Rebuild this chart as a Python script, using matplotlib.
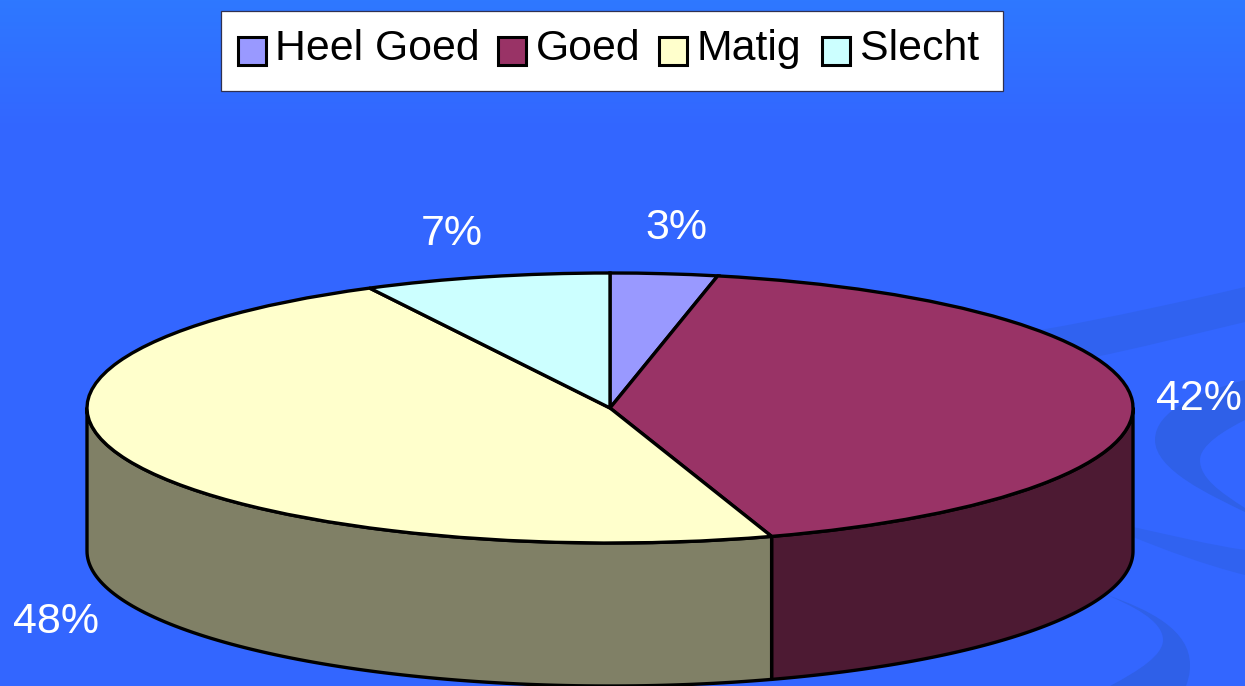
import numpy as np
import matplotlib
matplotlib.use('Agg')
import matplotlib.pyplot as plt
from matplotlib.patches import PathPatch, Polygon, Rectangle
from matplotlib.path import Path

plt.rcParams['font.family'] = ['Liberation Sans', 'DejaVu Sans']

labels = ['Heel Goed', 'Goed', 'Matig', 'Slecht']
values = [3.3, 41.7, 47.4, 7.6]
pct_labels = ['3%', '42%', '48%', '7%']
top_colors = ['#9999ff', '#993366', '#ffffcc', '#ccffff']
side_colors = ['#4d4d80', '#4d1a33', '#808066', '#668080']

W, H = 1245, 686
cx, cy, rx, ry, depth = 610, 408, 523, 135, 143

fig = plt.figure(figsize=(W / 100, H / 100), dpi=100)

# background
bg = fig.add_axes([0, 0, 1, 1])
bg.set_xlim(0, W)
bg.set_ylim(H, 0)
bg.axis('off')
grad = np.zeros((H, 1, 3))
t = np.clip(np.arange(H) / 130, 0, 1)
grad[:, 0, 0] = (46 + 5 * t) / 255
grad[:, 0, 1] = (120 - 18 * t) / 255
grad[:, 0, 2] = 1
bg.imshow(grad, extent=[0, W, H, 0], aspect='auto', zorder=0)


def blob(start, curves, color, z=1):
    verts = [start]
    codes = [Path.MOVETO]
    for c in curves:
        verts += c
        codes += [Path.CURVE4] * 3
    verts.append(start)
    codes.append(Path.CLOSEPOLY)
    bg.add_patch(PathPatch(Path(verts, codes), fc=color, ec='none', zorder=z))


swirl = '#2f60e8'
band = '#3062f0'
blob((1040, 330), [[(1110, 318), (1190, 300), (1245, 287)],
                   [(1245, 300), (1245, 310), (1245, 322)],
                   [(1190, 335), (1140, 348), (1090, 358)],
                   [(1070, 350), (1055, 340), (1040, 330)]], band)
blob((1245, 380), [[(1200, 392), (1155, 410), (1155, 440)],
                   [(1155, 470), (1210, 495), (1245, 512)],
                   [(1245, 510), (1245, 510), (1245, 508)],
                   [(1220, 492), (1200, 478), (1200, 460)],
                   [(1200, 445), (1225, 430), (1245, 420)],
                   [(1245, 405), (1245, 395), (1245, 380)]], swirl)
blob((1133, 527), [[(1170, 535), (1210, 545), (1245, 550)],
                   [(1245, 558), (1245, 566), (1245, 575)],
                   [(1205, 565), (1165, 550), (1133, 537)],
                   [(1133, 533), (1133, 530), (1133, 527)]], band)
blob((1107, 595), [[(1150, 610), (1190, 630), (1190, 665)],
                   [(1190, 675), (1188, 680), (1186, 686)],
                   [(1160, 686), (1135, 686), (1110, 686)],
                   [(1140, 670), (1163, 655), (1163, 640)],
                   [(1163, 620), (1130, 605), (1107, 595)]], swirl)

# pie axes: unit circle squashed to the ellipse
ax = fig.add_axes([(cx - rx) / W, 1 - (cy + ry) / H, 2 * rx / W, 2 * ry / H])
ax.patch.set_alpha(0)
d = depth / ry

# side wall, only the front half is visible
edges = 90 - 3.6 * np.cumsum([0] + values)
for i in range(len(values)):
    a0, a1 = edges[i + 1], edges[i]
    lo, hi = max(a0, -180), min(a1, 0)
    if lo >= hi:
        continue
    th = np.radians(np.linspace(lo, hi, 100))
    xs, ys = np.cos(th), np.sin(th)
    pts = np.r_[np.c_[xs, ys], np.c_[xs[::-1], ys[::-1] - d]]
    ax.add_patch(Polygon(pts, fc=side_colors[i], ec='black', lw=2.4, clip_on=False, joinstyle='round'))

wedges, _ = ax.pie(values, colors=top_colors, startangle=90, counterclock=False, radius=1,
                   wedgeprops=dict(edgecolor='black', linewidth=2.4, clip_on=False))
ax.set_aspect('auto')
ax.set_xlim(-1, 1)
ax.set_ylim(-1, 1)
ax.axis('off')

# percentage labels
lab_x = [676, 1199, 56, 452]
lab_y = [228, 399, 622, 234]
for s, x, y in zip(pct_labels, lab_x, lab_y):
    bg.text(x, y, s, color='white', fontsize=31, ha='center', va='center')

# legend, laid out by hand: text sits above the box centre in the original
bg.add_patch(Rectangle((221, 11), 782, 80, fc='white', ec='#303050', lw=0.9, zorder=5))
swatch_x = [237.5, 497.5, 658.5, 821.5]
text_x = [275, 536, 696, 860]
for name, col, sx, tx in zip(labels, top_colors, swatch_x, text_x):
    bg.add_patch(Rectangle((sx, 36.5), 28, 28, fc=col, ec='black', lw=2.2, zorder=6))
    bg.text(tx, 60, name, color='black', fontsize=30.8, ha='left', va='baseline', zorder=6)

fig.savefig('out.png', dpi=100)
